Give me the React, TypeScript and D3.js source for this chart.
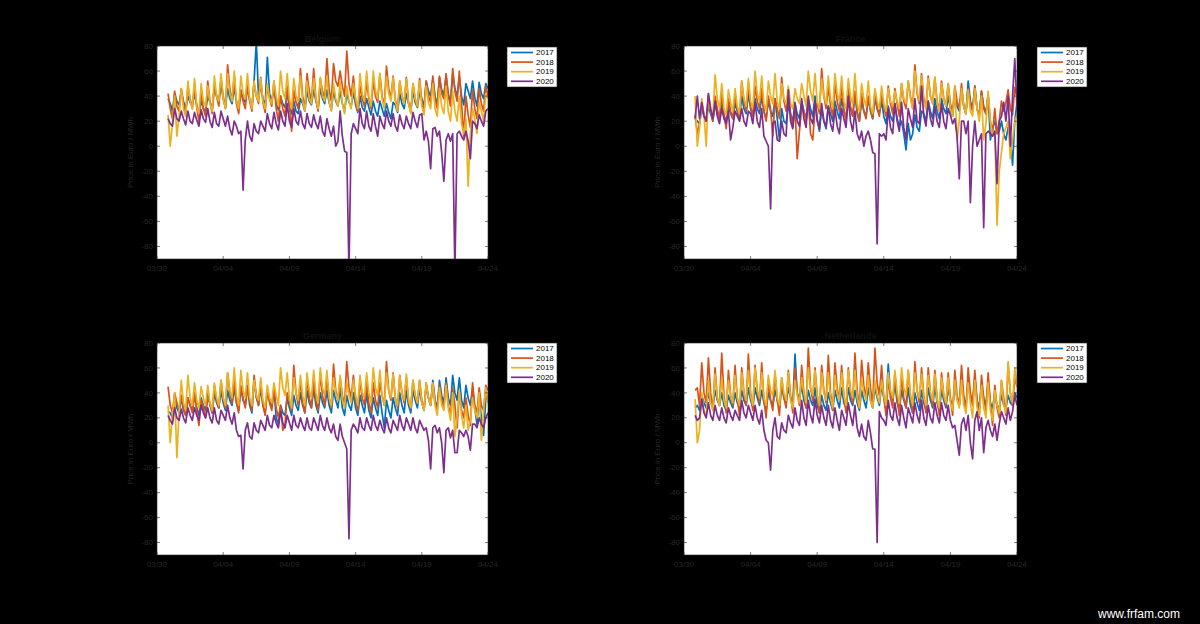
import React from "react";
import * as d3 from "d3";

// ---------- DATA (4-hourly prices, €/MWh, starting 03/30 20:00, one row per day) ----------
const TITLES = ["Belgium", "France", "Germany", "Netherlands"];
const YEARS = ["2017", "2018", "2019", "2020"];
const X_TICK_LABELS = ["03/30", "04/04", "04/09", "04/14", "04/19", "04/24"];
const Y_TICKS = [-80, -60, -40, -20, 0, 20, 40, 60, 80];

const BE_2017 = [38,
  34,28,42,36,33,44, 36,30,40,35,32,42, 33,27,36,30,28,40, 35,30,48,40,36,49,
  38,31,46,38,34,47, 36,30,45,38,35,46, 37,31,52,84,40,48, 38,32,71,42,36,46,
  35,29,40,34,31,42, 31,26,36,28,26,38, 34,28,44,36,33,45, 36,30,46,38,34,45,
  35,29,44,36,32,44, 34,28,42,35,32,43, 33,27,40,31,28,38, 31,25,36,28,24,36,
  30,24,34,27,22,35, 33,27,42,34,30,42, 34,28,44,35,31,43, 38,32,52,44,40,54,
  40,33,55,45,41,56, 42,35,58,46,40,55, 40,33,50,44,38,52, 39,32,51,42,38,50,
  46];
const BE_2018 = [42,
  30,22,44,32,28,46, 34,25,48,38,30,50, 31,20,42,30,24,52, 36,26,48,40,32,54,
  40,30,65,46,36,56, 34,26,44,36,30,50, 36,28,50,40,34,55, 35,27,48,38,32,52,
  30,20,40,30,24,48, 33,12,45,35,30,62, 40,30,58,44,36,62, 38,28,54,44,38,70,
  45,36,66,52,48,60, 48,40,76,50,40,56, 36,28,48,38,32,52, 38,30,52,40,35,58,
  40,32,64,46,38,56, 37,29,52,40,34,55, 35,27,50,38,32,54, 36,28,52,40,35,56,
  38,30,56,42,38,58, 40,32,62,44,36,60, 34,8,40,25,15,45, 30,22,46,34,28,48,
  40];
const BE_2019 = [25,
  0,18,40,8,24,46, 30,24,52,36,30,54, 32,26,50,36,32,48, 34,28,56,40,36,58,
  38,30,58,42,36,60, 36,30,56,42,38,58, 38,30,52,40,36,54, 36,30,50,38,34,52,
  40,32,60,44,38,58, 38,30,54,40,36,56, 36,28,52,38,34,54, 38,30,55,40,36,56,
  36,28,50,38,32,52, 34,26,48,36,30,50, 38,30,58,42,36,60, 40,32,60,44,38,58,
  38,30,56,42,36,55, 36,28,52,40,34,54, 34,26,50,38,32,52, 32,25,48,35,30,50,
  30,24,46,32,26,48, 28,20,44,28,20,40, 18,10,22,-32,10,30, 22,10,35,28,20,42,
  38];
const BE_2020 = [22,
  18,16,30,22,20,28, 22,17,28,20,18,27, 21,16,29,22,19,30, 20,15,27,18,16,28,
  22,16,24,14,9,20, 16,10,12,-35,5,20, 8,4,18,12,10,20, 16,12,26,18,14,27,
  18,13,28,20,16,34, 20,15,30,20,17,28, 18,14,26,18,15,25, 18,14,24,12,8,22,
  14,8,16,0,4,28, 8,-4,-5,-100,10,18, 14,10,30,18,14,28, 16,12,26,16,8,24,
  18,14,28,20,16,26, 16,12,25,18,14,24, 18,14,27,20,15,25, 26,5,12,4,-18,14,
  15,8,12,-5,-28,5, 10,4,10,-100,10,12, 8,5,12,4,-10,20, 18,14,25,20,16,28,
  30];

const FR_2017 = [22,
  20,18,30,24,20,32, 26,20,34,26,22,36, 24,20,32,26,22,34, 28,22,40,30,26,42,
  30,24,38,30,26,40, 28,22,36,28,24,38, 22,5,30,20,18,32, 26,20,34,26,22,36,
  28,22,38,30,24,40, 22,12,30,20,14,32, 26,20,36,28,22,38, 28,22,40,30,24,42,
  26,20,36,28,24,38, 28,22,38,30,26,36, 24,18,32,24,20,34, 22,16,20,10,-3,18,
  5,10,25,15,12,28, 26,20,36,28,22,38, 28,22,38,30,26,40, 30,24,42,32,28,44,
  32,26,52,36,30,48, 30,24,44,32,26,42, 5,15,20,10,12,20, 10,5,15,8,-15,20,
  35];
const FR_2018 = [25,
  10,18,35,25,20,40, 28,20,40,30,22,42, 26,14,38,28,22,40, 30,22,52,36,28,50,
  32,24,48,36,30,46, 28,20,40,30,8,38, 30,22,55,36,28,42, 26,15,32,-10,12,30,
  28,20,36,10,5,30, 34,26,62,40,30,48, 32,24,50,36,28,48, 30,20,46,32,24,44,
  28,20,42,28,22,40, 30,22,44,30,24,42, 32,24,48,34,26,46, 34,24,50,36,30,52,
  40,30,65,42,34,58, 38,30,56,40,34,55, 36,28,52,38,32,50, 34,28,48,36,30,50,
  32,26,46,34,28,48, 30,24,44,30,26,40, 20,10,30,10,20,36, 28,35,45,30,25,47,
  40];
const FR_2019 = [40,
  0,15,38,25,0,42, 30,24,57,38,30,50, 30,25,45,35,28,46, 32,26,52,38,32,54,
  36,30,60,42,36,56, 34,28,52,40,34,58, 36,30,50,38,34,48, 34,30,46,38,34,50,
  40,32,60,44,36,58, 36,30,54,40,34,56, 38,30,58,42,36,56, 36,30,54,40,34,58,
  34,28,50,38,32,52, 32,26,46,36,30,48, 34,28,46,36,32,44, 36,30,50,38,34,52,
  38,30,60,44,36,56, 36,30,54,40,34,55, 34,28,50,38,32,50, 30,24,48,5,20,46,
  32,26,45,28,24,46, 30,20,40,5,18,44, 20,8,12,-63,-20,-5, 10,15,20,-10,5,20,
  25];
const FR_2020 = [22,
  40,22,35,24,20,42, 30,22,36,24,18,30, 22,18,28,5,15,28, 24,20,30,20,16,28,
  26,18,35,20,15,30, 8,4,0,-50,18,20, 5,4,20,10,8,45, 20,14,35,20,16,38,
  22,15,40,22,18,36, 20,14,34,20,16,32, 18,12,30,16,10,30, 22,15,40,20,12,28,
  10,5,12,0,8,12, 5,-5,-6,-78,10,8, 10,5,30,15,10,34, 20,12,35,15,5,30,
  22,15,38,20,18,48, 24,16,36,22,16,32, 20,15,34,20,14,30, 25,18,22,8,-26,20,
  20,10,20,-45,0,20, 0,5,10,-65,10,12, 10,8,12,-30,20,24, 35,20,40,0,40,70,
  30];

const DE_2017 = [25,
  24,20,34,28,24,36, 26,22,36,30,26,38, 28,22,36,30,26,40, 30,24,40,32,28,42,
  32,26,42,34,30,44, 32,26,44,34,30,46, 30,24,50,36,30,44, 30,24,42,34,28,44,
  20,15,30,24,22,36, 28,22,38,30,26,40, 30,24,42,32,28,44, 30,24,40,32,28,42,
  30,24,42,34,28,44, 28,22,38,30,26,40, 28,22,38,30,24,40, 26,20,36,28,22,38,
  24,12,34,26,20,36, 28,22,40,30,24,42, 30,24,42,34,28,44, 32,26,46,36,30,50,
  34,28,50,38,32,52, 36,30,54,40,34,52, 34,28,46,36,30,44, 28,15,38,20,6,35,
  38];
const DE_2018 = [45,
  30,24,40,32,26,38, 28,22,36,30,24,40, 26,14,34,28,20,36, 32,24,46,34,28,50,
  36,28,56,40,32,50, 32,24,46,36,28,44, 34,26,54,38,30,48, 30,22,42,32,26,44,
  28,20,30,10,14,40, 34,26,62,40,30,50, 32,24,52,36,28,50, 34,26,56,38,30,52,
  36,28,63,42,34,52, 38,30,65,44,36,54, 34,26,50,36,30,48, 32,24,48,34,28,48,
  38,30,65,42,34,56, 36,28,54,40,32,52, 34,28,50,38,32,50, 34,26,48,36,30,48,
  32,26,46,34,28,48, 30,22,44,30,12,40, 26,20,36,22,14,48, 30,24,44,30,26,46,
  42];
const DE_2019 = [30,
  0,22,40,-12,25,50, 32,26,54,36,30,48, 34,28,45,36,30,46, 32,26,48,36,30,50,
  36,30,56,42,36,60, 38,30,58,42,36,56, 36,30,50,38,34,52, 34,28,46,36,32,48,
  38,30,60,44,38,56, 36,28,52,40,34,54, 38,30,56,42,36,58, 40,32,60,44,38,58,
  36,30,52,40,34,54, 34,28,48,38,32,50, 38,30,54,40,36,56, 40,32,60,44,38,58,
  38,30,56,42,36,55, 36,30,54,40,34,55, 34,28,50,38,32,50, 32,26,48,36,30,48,
  30,22,44,30,26,46, 28,18,40,5,20,42, 22,12,30,10,18,36, 26,20,40,2,25,44,
  32];
const DE_2020 = [22,
  18,15,28,20,18,27, 20,16,28,22,18,28, 22,18,30,24,20,28, 20,16,28,18,15,26,
  22,18,30,20,15,24, 10,5,6,-21,10,16, 5,3,16,10,8,18, 14,10,22,14,12,22,
  16,12,25,16,12,22, 16,10,22,14,12,20, 14,10,20,12,10,20, 15,10,22,14,10,20,
  12,8,15,5,2,15, 5,0,-5,-77,10,15, 12,8,20,12,10,20, 14,10,22,14,10,18,
  12,8,20,12,8,18, 14,10,22,14,10,20, 15,10,20,12,8,18, 14,10,12,2,-21,12,
  14,8,12,0,-24,10, 12,4,10,-8,-8,10, 8,5,10,5,-6,15, 15,12,20,15,12,20,
  24];

const NL_2017 = [28,
  30,26,38,32,28,40, 32,28,42,34,30,40, 30,26,38,32,28,40, 32,28,42,34,30,44,
  34,28,44,36,30,42, 32,26,40,34,30,42, 34,28,46,36,32,44, 36,30,71,40,34,46,
  34,28,42,34,30,44, 30,24,38,30,26,40, 32,26,42,34,28,44, 32,28,44,34,30,42,
  32,26,42,34,28,44, 34,28,44,36,30,46, 36,30,63,40,34,48, 32,26,42,34,28,44,
  30,24,40,32,26,42, 32,26,44,34,28,46, 32,26,42,34,28,44, 34,28,46,36,30,48,
  36,30,50,38,32,52, 34,28,46,36,30,48, 32,28,40,30,28,38, 30,28,38,32,30,40,
  36];
const NL_2018 = [42,
  44,30,64,40,32,68, 40,26,60,36,30,72, 38,24,58,38,30,62, 36,22,60,40,30,71,
  40,26,62,42,32,64, 34,20,50,34,26,56, 34,22,52,36,28,58, 38,24,60,40,30,62,
  40,28,76,44,34,60, 38,24,62,42,32,70, 40,26,64,44,34,62, 38,24,60,40,32,72,
  42,28,66,46,36,64, 44,30,76,48,38,62, 36,22,52,36,28,56, 36,22,54,36,28,58,
  38,24,65,42,32,60, 38,24,60,40,30,58, 36,22,56,38,30,56, 36,22,58,38,30,62,
  38,24,60,40,30,58, 34,20,54,36,26,56, 32,14,46,28,20,50, 36,22,63,40,30,52,
  45];
const NL_2019 = [35,
  0,10,40,25,22,50, 32,26,55,36,30,52, 34,28,50,38,32,54, 36,30,56,40,34,58,
  38,30,60,42,36,56, 36,30,54,42,38,58, 36,30,52,40,34,56, 34,28,50,38,32,52,
  40,32,60,44,38,58, 38,30,56,40,34,56, 36,28,54,40,34,56, 38,30,58,42,36,58,
  36,28,52,40,34,54, 34,28,50,38,32,50, 38,30,56,42,36,58, 40,32,60,44,38,58,
  38,30,56,42,36,55, 36,30,54,40,34,55, 34,28,52,38,32,52, 32,26,50,34,28,50,
  30,24,48,32,20,50, 28,22,46,28,20,48, 26,18,42,30,24,50, 30,24,65,40,32,60,
  45];
const NL_2020 = [22,
  18,20,35,24,20,32, 22,18,30,22,18,28, 20,16,28,22,18,26, 22,18,34,24,20,30,
  24,18,30,20,15,26, 10,2,0,-22,10,20, 5,3,16,10,8,22, 16,12,28,18,14,34,
  20,14,34,22,16,35, 22,16,30,20,14,30, 18,12,28,18,10,26, 20,14,32,22,14,30,
  12,5,15,5,2,18, 8,-5,-5,-80,25,20, 18,14,34,22,18,32, 20,14,30,20,12,28,
  22,16,32,22,16,34, 20,14,30,20,16,32, 22,16,32,22,18,30, 18,12,14,2,-10,15,
  20,10,22,0,-13,18, 25,10,20,-8,12,18, 10,5,15,2,15,25, 20,15,28,18,25,38,
  30];

const PANEL_SERIES = [
  [BE_2017, BE_2018, BE_2019, BE_2020],
  [FR_2017, FR_2018, FR_2019, FR_2020],
  [DE_2017, DE_2018, DE_2019, DE_2020],
  [NL_2017, NL_2018, NL_2019, NL_2020],
];

// ---------- STYLE / LAYOUT ----------
const COLORS = ["#0072BD", "#D95319", "#EDB120", "#7E2F8E"];
const AXIS_COLOR = "#262626";
const FONT = "Liberation Sans, Arial, Helvetica, sans-serif";
const START_MS = Date.UTC(2020, 2, 30, 20);
const STEP_MS = 4 * 3600 * 1000;
const X_DOMAIN = [new Date(Date.UTC(2020, 2, 30)), new Date(Date.UTC(2020, 3, 24))];

const PANELS = [
  { x0: 157, x1: 488, y0: 46, y1: 259, lx: 507, ly: 47 },
  { x0: 684, x1: 1017, y0: 46, y1: 259, lx: 1037, ly: 47 },
  { x0: 157, x1: 488, y0: 343, y1: 555, lx: 507, ly: 343 },
  { x0: 684, x1: 1017, y0: 343, y1: 555, lx: 1037, ly: 343 },
];

function Panel({ idx }: { idx: number }) {
  const p = PANELS[idx];
  const x = d3.scaleUtc().domain(X_DOMAIN).range([p.x0, p.x1]);
  const y = d3.scaleLinear().domain([-90, 80]).range([p.y1, p.y0]);
  const xTicks = X_TICK_LABELS.map((lbl) => {
    const [m, d] = lbl.split("/").map(Number);
    return { lbl, date: new Date(Date.UTC(2020, m - 1, d)) };
  });
  const line = d3
    .line<number>()
    .x((_, i) => x(new Date(START_MS + i * STEP_MS)))
    .y((v) => y(v));
  const clipId = `clip${idx}`;
  const tl = 3;
  return (
    <g>
      <defs>
        <clipPath id={clipId}>
          <rect x={p.x0} y={p.y0} width={p.x1 - p.x0} height={p.y1 - p.y0} />
        </clipPath>
      </defs>
      <rect x={p.x0} y={p.y0} width={p.x1 - p.x0} height={p.y1 - p.y0} fill="#fff" />
      <g clipPath={`url(#${clipId})`}>
        {PANEL_SERIES[idx].map((s, k) => (
          <path key={k} d={line(s) || ""} fill="none" stroke={COLORS[k]} strokeWidth={1.7} strokeLinejoin="round" />
        ))}
      </g>
      <rect x={p.x0} y={p.y0} width={p.x1 - p.x0} height={p.y1 - p.y0} fill="none" stroke={AXIS_COLOR} strokeWidth={0.6} />
      {Y_TICKS.map((t) => (
        <g key={t}>
          <line x1={p.x0} x2={p.x0 + tl} y1={y(t)} y2={y(t)} stroke={AXIS_COLOR} strokeWidth={0.6} />
          <line x1={p.x1} x2={p.x1 - tl} y1={y(t)} y2={y(t)} stroke={AXIS_COLOR} strokeWidth={0.6} />
          <text x={p.x0 - 4} y={y(t)} dy="0.33em" textAnchor="end" fontSize={8} fill={AXIS_COLOR} fontFamily={FONT}>
            {t}
          </text>
        </g>
      ))}
      {xTicks.map((t) => (
        <g key={t.lbl}>
          <line x1={x(t.date)} x2={x(t.date)} y1={p.y1} y2={p.y1 - tl} stroke={AXIS_COLOR} strokeWidth={0.6} />
          <line x1={x(t.date)} x2={x(t.date)} y1={p.y0} y2={p.y0 + tl} stroke={AXIS_COLOR} strokeWidth={0.6} />
          <text x={x(t.date)} y={p.y1 + 12} textAnchor="middle" fontSize={8} fill={AXIS_COLOR} fontFamily={FONT}>
            {t.lbl}
          </text>
        </g>
      ))}
      <text
        transform={`translate(${p.x0 - 24},${(p.y0 + p.y1) / 2}) rotate(-90)`}
        textAnchor="middle"
        fontSize={8}
        fill={AXIS_COLOR}
        fontFamily={FONT}
      >
        Price in Euro / MWh
      </text>
      <text x={(p.x0 + p.x1) / 2} y={p.y0 - 4} textAnchor="middle" fontSize={9} fontWeight="bold" fill="#111" fontFamily={FONT}>
        {TITLES[idx]}
      </text>
      <g transform={`translate(${p.lx},${p.ly})`}>
        <rect x={0} y={0} width={50} height={40} fill="#fff" stroke={AXIS_COLOR} strokeWidth={0.6} />
        {YEARS.map((yr, k) => (
          <g key={yr} transform={`translate(0,${5.5 + k * 9.6})`}>
            <line x1={4} x2={26} y1={0} y2={0} stroke={COLORS[k]} strokeWidth={1.7} />
            <text x={29} y={0} dy="0.33em" fontSize={8} fill="#000" fontFamily={FONT}>
              {yr}
            </text>
          </g>
        ))}
      </g>
    </g>
  );
}

export default function App() {
  return (
    <div style={{ position: "absolute", left: 0, top: 0, width: 1200, height: 624, background: "#000" }}>
      <svg width={1200} height={624} style={{ display: "block" }}>
        <rect x={0} y={0} width={1200} height={624} fill="#000" />
        {[0, 1, 2, 3].map((i) => (
          <Panel key={i} idx={i} />
        ))}
        <text x={1180} y={618} textAnchor="end" fontSize={12} fill="#fff" fontFamily={FONT}>
          www.frfam.com
        </text>
      </svg>
    </div>
  );
}
